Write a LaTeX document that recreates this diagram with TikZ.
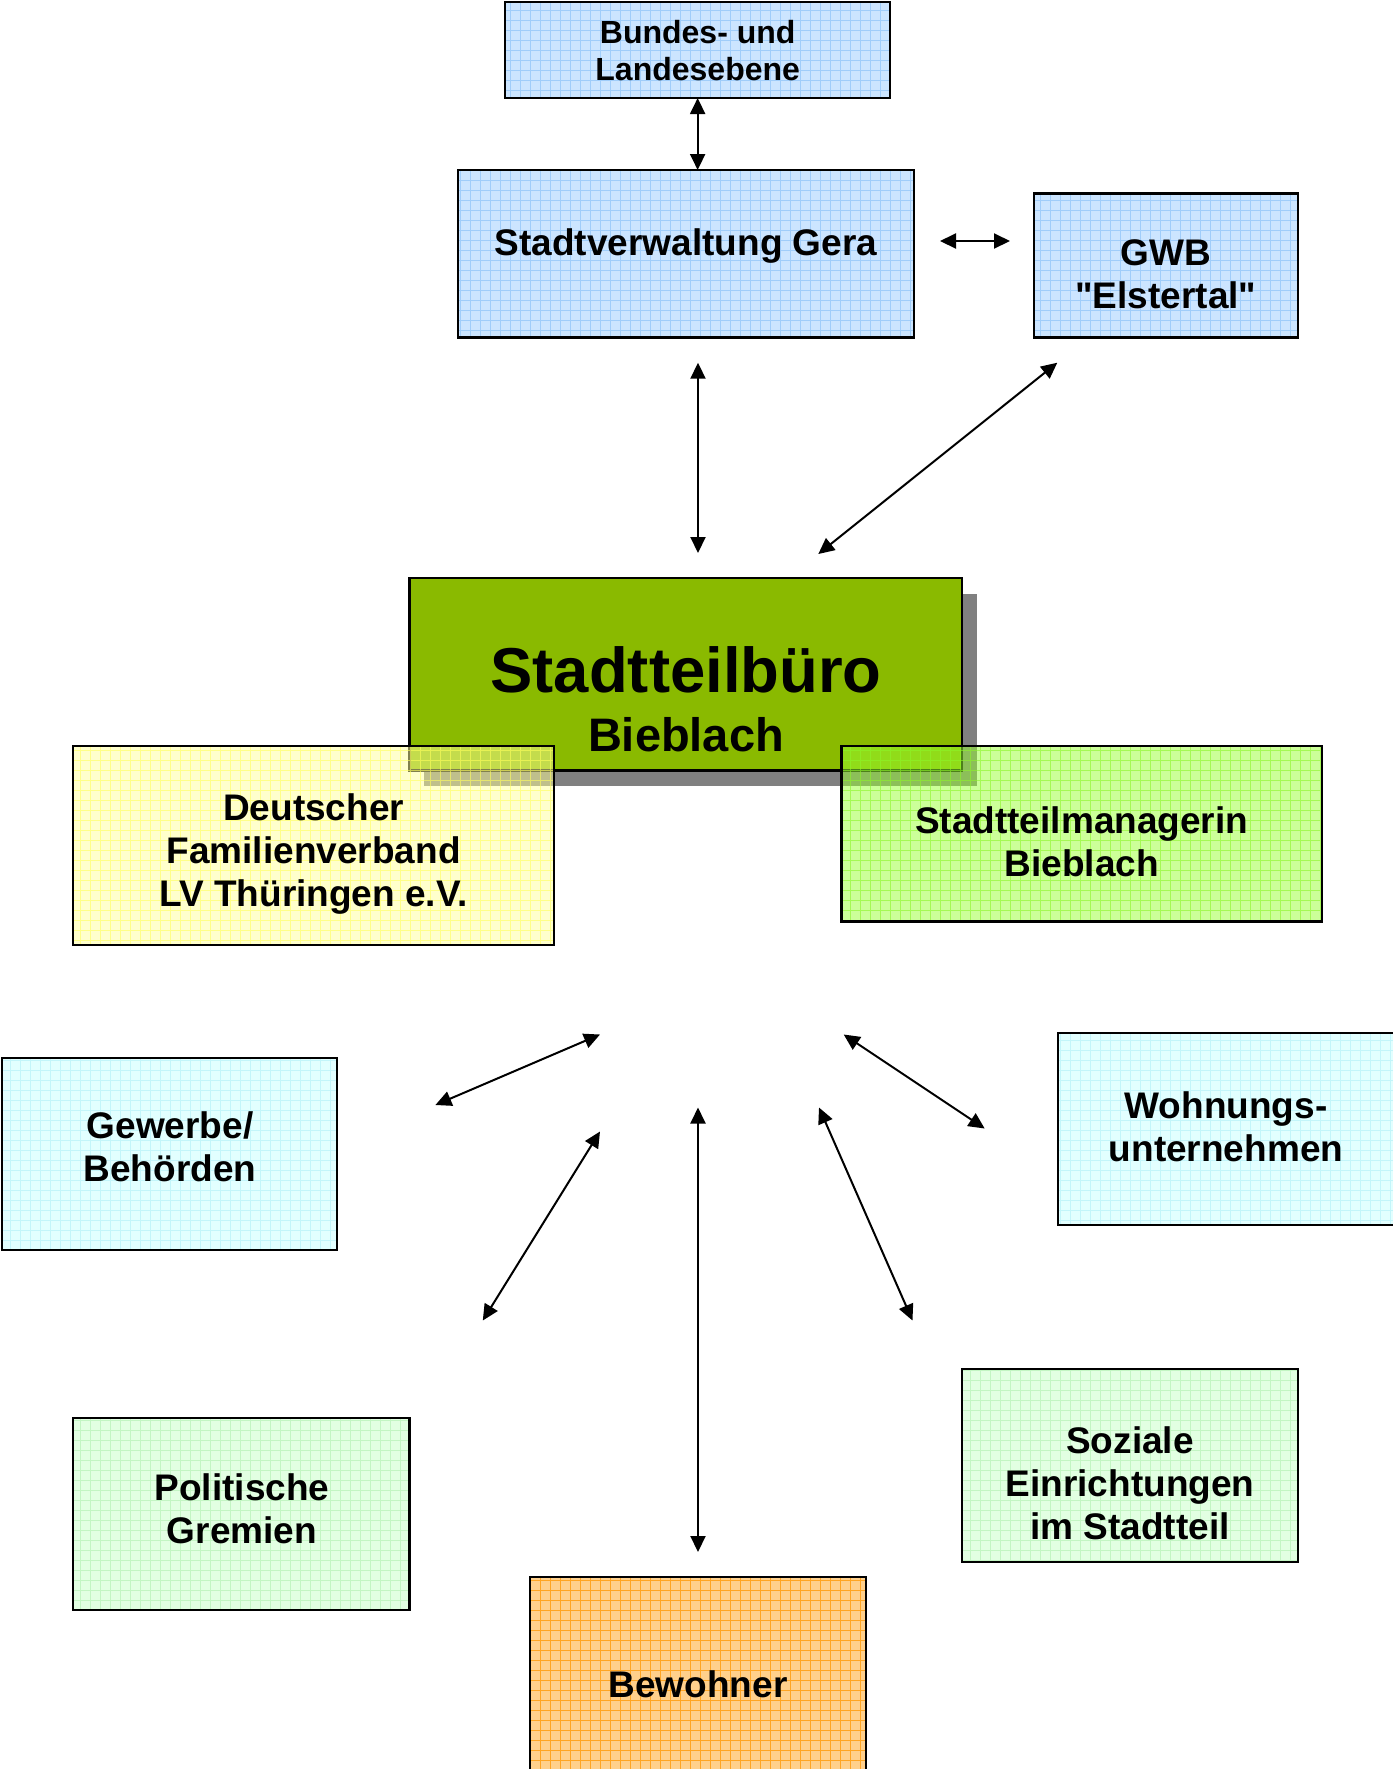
\documentclass[tikz,border=0pt]{standalone}
\usepackage{fontspec}
\setmainfont{Liberation Sans}[Ligatures=TeXOff]
\usetikzlibrary{arrows.meta}
\definecolor{blueF}{RGB}{204,229,255}
\definecolor{blueG}{RGB}{160,205,250}
\definecolor{stbF}{RGB}{138,186,0}
\definecolor{shadowC}{RGB}{128,128,128}
\definecolor{yelF}{RGB}{255,255,153}
\definecolor{yelG}{RGB}{255,255,90}
\definecolor{manF}{RGB}{153,255,51}
\definecolor{manG}{RGB}{140,245,40}
\definecolor{cyanF}{RGB}{226,255,255}
\definecolor{cyanG}{RGB}{195,245,250}
\definecolor{pgF}{RGB}{226,255,226}
\definecolor{pgG}{RGB}{195,245,195}
\definecolor{orF}{RGB}{255,208,140}
\definecolor{orG}{RGB}{255,165,35}
\newcommand\st{\rule{0pt}{16pt}}
\newcommand\gbox[7]{%
  \pgfmathsetmacro\bw{(#4-#2)*0.5}%
  \pgfmathsetmacro\bh{(#5-#3)*0.5}%
  \node[box, #6, minimum width=\bw pt, minimum height=\bh pt] (#1) at (#2,#3) {};
  \begin{scope}
    \clip (#1.south west) rectangle (#1.north east);
    \draw[#7, line width=0.5pt] (#1.south west) grid[step=5pt] (#1.north east);
  \end{scope}
  \draw[line width=1.1pt] (#1.south west) rectangle (#1.north east);
}
\tikzset{
  box/.style={draw=none, inner sep=0pt, outer sep=0pt, anchor=north west},
  txt/.style={font=\fontsize{18.5}{21.5}\selectfont\bfseries, align=center, inner sep=0pt, anchor=north, yshift=16pt},
  txtone/.style={font=\fontsize{18.5}{21.5}\selectfont\bfseries, inner sep=0pt, anchor=base},
  txtsmall/.style={font=\fontsize{16}{18.5}\selectfont\bfseries, align=center, inner sep=0pt, anchor=north, yshift=16pt},
  arr/.style={{Triangle[length=8pt,width=7.5pt]}-{Triangle[length=8pt,width=7.5pt]}, line width=1pt},
}
\begin{document}
\begin{tikzpicture}[x=0.5pt,y=-0.5pt]
\useasboundingbox (0,0) rectangle (1393,1769);
% top blue boxes
\gbox{bu}{505.3}{2}{890}{98}{fill=blueF}{draw=blueG}
\gbox{sv}{458}{170}{913.6}{337.5}{fill=blueF}{draw=blueG}
\gbox{gwb}{1034.3}{193.5}{1298.3}{337.5}{fill=blueF}{draw=blueG}
\node[txtsmall] (but) at (697.7,43) {\st Bundes- und\\Landesebene};
\node[txtone] (svt) at (686,255) {Stadtverwaltung Gera};
\node[txt] (gwbt) at (1166,265) {\st GWB\\"Elstertal"};
% central box with shadow
\fill[shadowC] (424.4,593.5) rectangle (977.1,786.4);
\node[box, fill=stbF, draw=black, line width=1.1pt, minimum width=276.35pt, minimum height=96.4pt] (stb) at (409.4,577.7) {};
\node[font=\fontsize{31.7}{36}\selectfont\bfseries, inner sep=0pt, anchor=base] (stbt1) at (686,692) {Stadtteilbüro};
\node[font=\fontsize{23.5}{27}\selectfont\bfseries, inner sep=0pt, anchor=base] (stbt2) at (686,751) {Bieblach};
% overlapping boxes
\gbox{dfv}{73.3}{745.7}{553.8}{945.2}{fill=yelF, fill opacity=0.5}{draw=yelG, opacity=0.6}
\gbox{smb}{841.4}{745.7}{1321.9}{921.5}{fill=manF, fill opacity=0.5}{draw=manG, opacity=0.6}
\node[txt] (dfvt) at (313.6,820) {\st Deutscher\\Familienverband\\LV Thüringen e.V.};
\node[txt] (smbt) at (1081.7,833) {\st Stadtteilmanagerin\\Bieblach};
% lower boxes
\gbox{gew}{2.3}{1058}{337.3}{1250}{fill=cyanF}{draw=cyanG}
\gbox{woh}{1058}{1033.2}{1400}{1225}{fill=cyanF}{draw=cyanG}
\gbox{pol}{73.3}{1418}{409.4}{1609.6}{fill=pgF}{draw=pgG}
\gbox{soz}{962.1}{1369.3}{1298.3}{1562.2}{fill=pgF}{draw=pgG}
\gbox{bew}{530.1}{1577}{866.3}{1790}{fill=orF}{draw=orG}
\node[txt] (gewt) at (170,1138.5) {\st Gewerbe/\\Behörden};
\node[txt] (woht) at (1226,1118) {\st Wohnungs-\\unternehmen};
\node[txt] (polt) at (242,1500) {\st Politische\\Gremien};
\node[txt] (sozt) at (1130,1453) {\st Soziale\\Einrichtungen\\im Stadtteil};
\node[txtone] (bewt) at (698,1697) {Bewohner};
% free connector ends
\coordinate (c1a) at (940,241);
\coordinate (c1b) at (1010,241);
\coordinate (c2a) at (698,362.7);
\coordinate (c2b) at (698,553);
\coordinate (c3a) at (1057.3,362.7);
\coordinate (c3b) at (818.3,554);
\coordinate (c4a) at (600,1034.5);
\coordinate (c4b) at (435.4,1105);
\coordinate (c5a) at (843.7,1034.5);
\coordinate (c5b) at (984.7,1128.5);
\coordinate (c6a) at (600,1131.5);
\coordinate (c6b) at (482.8,1320.5);
\coordinate (c7a) at (698,1107.5);
\coordinate (c7b) at (698,1552);
\coordinate (c8a) at (819,1107.5);
\coordinate (c8b) at (912.5,1320.5);
% connectors
\draw[arr] (bu.south) -- (bu.south |- sv.north);
\draw[arr] (c1a) -- (c1b);
\draw[arr] (c2a) -- (c2b);
\draw[arr] (c3a) -- (c3b);
\draw[arr] (c4a) -- (c4b);
\draw[arr] (c5a) -- (c5b);
\draw[arr] (c6a) -- (c6b);
\draw[arr] (c7a) -- (c7b);
\draw[arr] (c8a) -- (c8b);
\end{tikzpicture}
\end{document}
